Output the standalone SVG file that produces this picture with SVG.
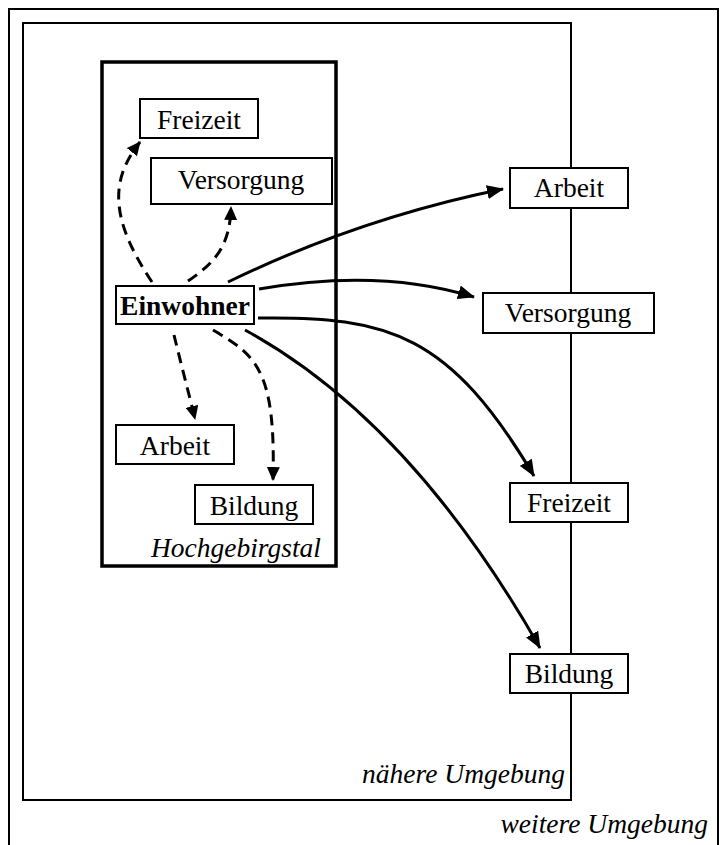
<svg xmlns="http://www.w3.org/2000/svg" width="720" height="845" viewBox="0 0 720 845">
<defs>
<marker id="ah" viewBox="0 0 17 14" refX="16" refY="7" markerWidth="17" markerHeight="14" markerUnits="userSpaceOnUse" orient="auto">
<path d="M0,0 L17,7 L0,14 z" fill="#000"/>
</marker>
<marker id="ahd" viewBox="0 0 14 13" refX="13" refY="6.5" markerWidth="14" markerHeight="13" markerUnits="userSpaceOnUse" orient="auto">
<path d="M0,0 L14,6.5 L0,13 z" fill="#000"/>
</marker>
</defs>
<style>
.box{fill:#fff;stroke:#000;stroke-width:2}
.t{font-family:"Liberation Serif","Times New Roman",serif;font-size:27.5px;fill:#000}
.b{font-weight:bold}
.i{font-style:italic}
.c{fill:none;stroke:#000;stroke-width:3;marker-end:url(#ah)}
.d{stroke-dasharray:11 7;marker-end:url(#ahd)}
</style>
<rect x="0" y="0" width="720" height="845" fill="#fff"/>
<g id="weitere">
<rect x="9" y="9" width="709" height="850" fill="none" stroke="#000" stroke-width="2"/>
<text class="t i" x="708" y="833" text-anchor="end">weitere Umgebung</text>
</g>
<g id="naehere">
<rect x="23" y="23" width="548" height="777" fill="none" stroke="#000" stroke-width="2"/>
<text class="t i" x="565" y="783" text-anchor="end">nähere Umgebung</text>
</g>
<g id="hochgebirgstal">
<rect x="102" y="62" width="234" height="504" fill="none" stroke="#000" stroke-width="3.5"/>
<text class="t i" x="321" y="557" text-anchor="end">Hochgebirgstal</text>
</g>
<g id="connectors">
<path class="c" d="M228,282 Q360,218 503,189"/>
<path class="c" d="M259,289 Q380,268 474,297"/>
<path class="c" d="M258,318 C390,316 450,335 534,476"/>
<path class="c" d="M245,330 Q410,420 540,648"/>
<path class="c d" d="M152,282 C112,222 108,182 140,142"/>
<path class="c d" d="M188,281 C216,262 230,245 231,207"/>
<path class="c d" d="M174,335 C180,360 188,390 195,419"/>
<path class="c d" d="M213,330 C255,355 276,368 273,480"/>
</g>
<g id="in-freizeit">
<rect class="box" x="140" y="99" width="118" height="39"/>
<text class="t" x="199" y="129" text-anchor="middle">Freizeit</text>
</g>
<g id="in-versorgung">
<rect class="box" x="151" y="158" width="181" height="46"/>
<text class="t" x="241" y="189" text-anchor="middle">Versorgung</text>
</g>
<g id="einwohner">
<rect class="box" x="116" y="286" width="138" height="38"/>
<text class="t b" x="185" y="315" text-anchor="middle">Einwohner</text>
</g>
<g id="in-arbeit">
<rect class="box" x="116" y="425" width="118" height="39"/>
<text class="t" x="175" y="455" text-anchor="middle">Arbeit</text>
</g>
<g id="in-bildung">
<rect class="box" x="195" y="485" width="118" height="39"/>
<text class="t" x="254" y="515" text-anchor="middle">Bildung</text>
</g>
<g id="out-arbeit">
<rect class="box" x="510" y="168" width="118" height="40"/>
<text class="t" x="569" y="197" text-anchor="middle">Arbeit</text>
</g>
<g id="out-versorgung">
<rect class="box" x="483" y="293" width="171" height="40"/>
<text class="t" x="568" y="322" text-anchor="middle">Versorgung</text>
</g>
<g id="out-freizeit">
<rect class="box" x="510" y="483" width="118" height="39"/>
<text class="t" x="569" y="512" text-anchor="middle">Freizeit</text>
</g>
<g id="out-bildung">
<rect class="box" x="510" y="654" width="118" height="39"/>
<text class="t" x="569" y="683" text-anchor="middle">Bildung</text>
</g>
</svg>
